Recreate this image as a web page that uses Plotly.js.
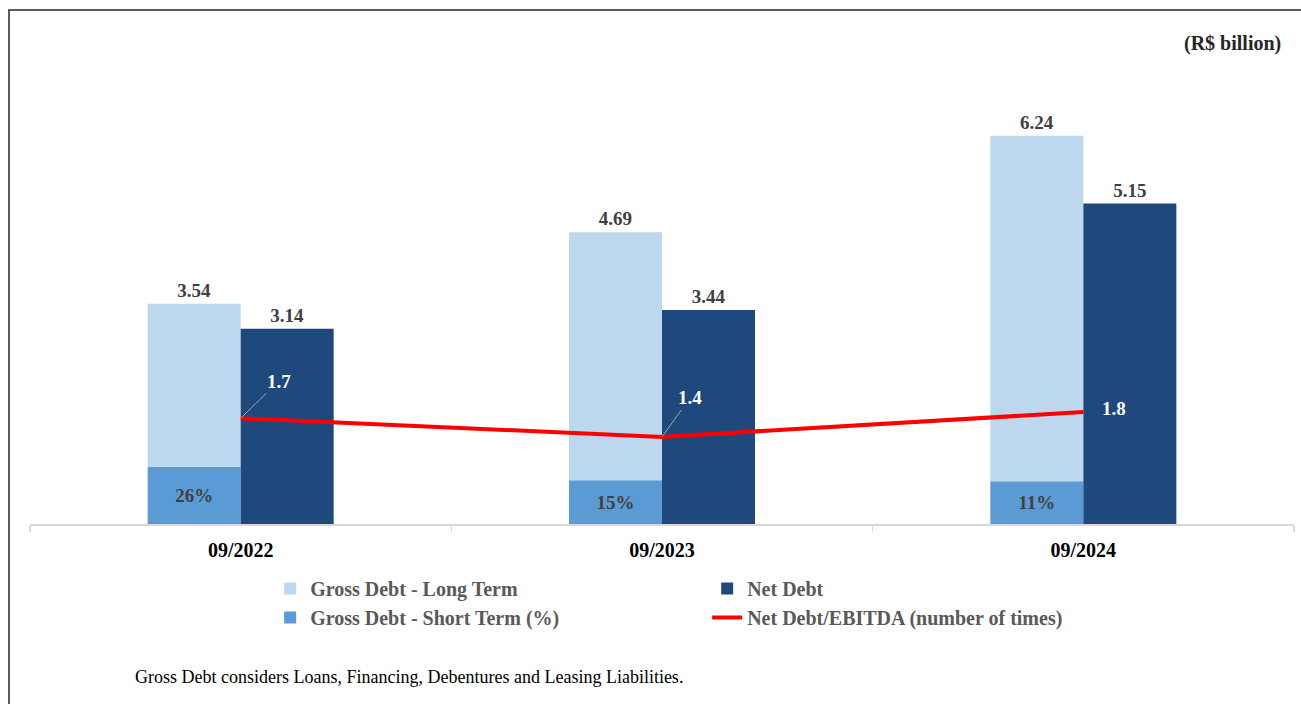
<!DOCTYPE html>
<html>
<head>
<meta charset="utf-8">
<script src="https://cdn.plot.ly/plotly-3.0.1.min.js"></script>
<style>
  html, body { margin: 0; padding: 0; background: #fff; }
  #wrap { position: relative; width: 1301px; height: 704px; overflow: hidden; }
  #chart { width: 1301px; height: 704px; }
  #frame { position: absolute; left: 8px; top: 9px; width: 1310px; height: 720px;
           border-top: 2px solid #5a5e5a; border-left: 2px solid #5a5e5a; pointer-events: none; }
</style>
</head>
<body>
<div id="wrap">
  <div id="chart"></div>
  <div id="frame"></div>
</div>
<script>
// ---- Data ----
const categories = ["09/2022", "09/2023", "09/2024"];
const grossDebtTotal = [3.54, 4.69, 6.24];      // R$ billion
const shortTermPct = [26, 15, 11];              // % of gross debt
const netDebt = [3.14, 3.44, 5.15];             // R$ billion
const netDebtEbitda = [1.7, 1.4, 1.8];          // number of times

// derived split of gross debt into short / long term portions
const shortTermAmt = grossDebtTotal.map((t, i) => t * shortTermPct[i] / 100);
const longTermAmt = grossDebtTotal.map((t, i) => t - shortTermAmt[i]);

const FONT = 'Liberation Serif, Times New Roman, serif';
const C_LIGHT = '#bdd7ee', C_MED = '#5b9bd5', C_DARK = '#1f497d', C_RED = '#ff0000';
const YMAX = 7.78;

const traces = [
  {
    type: 'bar', name: 'Gross Debt - Short Term (%)', x: categories, y: shortTermAmt,
    offsetgroup: 'gross', legendrank: 3,
    marker: { color: C_MED, line: { width: 0 } },
    text: shortTermPct.map(v => v + '%'), textposition: 'inside', insidetextanchor: 'middle',
    constraintext: 'none',
    textfont: { family: FONT, size: 19, color: '#404040', weight: 'bold' },
    hoverinfo: 'skip'
  },
  {
    type: 'bar', name: 'Gross Debt - Long Term', x: categories, y: longTermAmt, base: shortTermAmt,
    offsetgroup: 'gross', legendrank: 1,
    marker: { color: C_LIGHT, line: { width: 0 } },
    text: grossDebtTotal.map(v => v.toFixed(2)), textposition: 'outside', constraintext: 'none',
    textfont: { family: FONT, size: 19, color: '#404040', weight: 'bold' },
    cliponaxis: false, hoverinfo: 'skip'
  },
  {
    type: 'bar', name: 'Net Debt', x: categories, y: netDebt,
    offsetgroup: 'net', legendrank: 2,
    marker: { color: C_DARK, line: { width: 0 } },
    text: netDebt.map(v => v.toFixed(2)), textposition: 'outside', constraintext: 'none',
    textfont: { family: FONT, size: 19, color: '#404040', weight: 'bold' },
    cliponaxis: false, hoverinfo: 'skip'
  },
  {
    type: 'scatter', mode: 'lines', name: 'Net Debt/EBITDA (number of times)',
    x: categories, y: netDebtEbitda, yaxis: 'y2', legendrank: 4,
    line: { color: C_RED, width: 4 }, hoverinfo: 'skip'
  }
];

const lineLabelOffsets = [
  { ax: 38, ay: -37, arrow: true },
  { ax: 28, ay: -39, arrow: true },
  { ax: 31, ay: -4, arrow: false }
];

const annotations = netDebtEbitda.map((v, i) => {
  const o = lineLabelOffsets[i];
  const a = {
    xref: 'x', yref: 'y2', x: categories[i], y: v,
    text: v.toFixed(1),
    font: { family: FONT, size: 19, color: '#ffffff', weight: 'bold' }
  };
  if (o.arrow) {
    Object.assign(a, { showarrow: true, ax: o.ax, ay: o.ay, arrowhead: 0, arrowwidth: 1,
      arrowcolor: '#a6a6a6', standoff: 0 });
  } else {
    Object.assign(a, { showarrow: false, xshift: o.ax, yshift: -o.ay });
  }
  return a;
});

annotations.push({
  xref: 'paper', yref: 'paper', x: 0.9913, y: 0.9938, xanchor: 'right', yanchor: 'middle',
  showarrow: false, text: '(R$ billion)',
  font: { family: FONT, size: 20, color: '#262626', weight: 'bold' }
});
annotations.push({
  xref: 'paper', yref: 'paper', x: 0.0815, y: -0.316, xanchor: 'left', yanchor: 'middle',
  showarrow: false, text: 'Gross Debt considers Loans, Financing, Debentures and Leasing Liabilities.',
  font: { family: FONT, size: 18, color: '#000000' }
});

const layout = {
  width: 1301, height: 704,
  margin: { l: 30, r: 7, t: 40, b: 180 },
  paper_bgcolor: '#ffffff', plot_bgcolor: '#ffffff',
  barmode: 'group', bargap: 0.5585, bargroupgap: 0,
  font: { family: FONT },
  xaxis: {
    type: 'category', showline: true, linecolor: '#d9d9d9', linewidth: 1.5,
    ticks: 'outside', tickson: 'boundaries', ticklen: 6, tickcolor: '#d9d9d9', tickwidth: 1.5,
    ticklabelstandoff: 7,
    showgrid: false, zeroline: false,
    tickfont: { family: FONT, size: 20, color: '#000000', weight: 'bold' }
  },
  yaxis: { range: [0, YMAX], visible: false, showgrid: false, zeroline: false },
  yaxis2: { range: [0, YMAX], overlaying: 'y', side: 'right', visible: false, showgrid: false, zeroline: false },
  showlegend: true,
  legend: {
    orientation: 'h', x: 0.19, xanchor: 'left', y: -0.093, yanchor: 'top',
    entrywidth: 392, traceorder: 'normal',
    font: { family: FONT, size: 20, color: '#595959', weight: 'bold' },
    bgcolor: 'rgba(0,0,0,0)', tracegroupgap: 0
  },
  annotations: annotations
};

Plotly.newPlot('chart', traces, layout, { staticPlot: true, displayModeBar: false });
</script>
</body>
</html>
